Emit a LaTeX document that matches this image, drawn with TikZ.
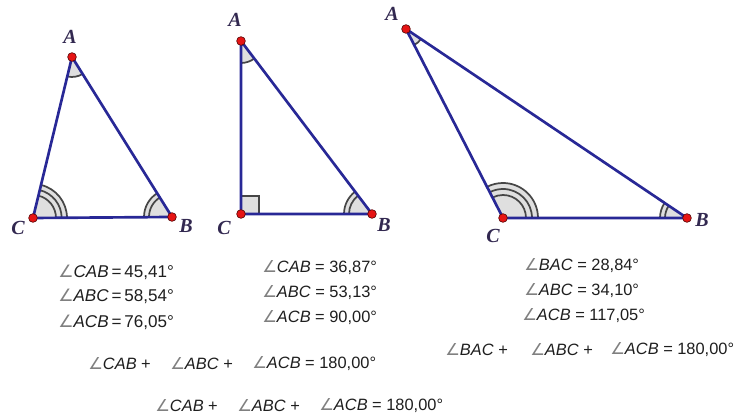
\documentclass[tikz,border=0pt]{standalone}
\usepackage{fontspec}
\setmainfont{Liberation Sans}
\newfontfamily\lblfont{Liberation Serif}
\newfontfamily\symfont{DejaVu Sans}
\usetikzlibrary{angles}
\definecolor{sidec}{RGB}{40,40,150}
\definecolor{ptred}{RGB}{230,20,20}
\definecolor{lblc}{RGB}{50,40,80}
\definecolor{txtc}{RGB}{30,30,30}
\newcommand{\angsym}[1]{{\symfont\color{gray}\char"2220}\textit{#1}}
\begin{document}
\begin{tikzpicture}[x=0.75pt,y=0.75pt,
  sideline/.style={draw=sidec, line width=2pt, line join=round},
  vpt/.style={circle, fill=ptred, draw=ptred!40!black, line width=0.5pt, inner sep=0pt, minimum size=6.5pt},
  vlbl/.style={font=\lblfont\bfseries\itshape\fontsize{15}{15}\selectfont, text=lblc, inner sep=0pt},
  meas/.style={anchor=west, font=\fontsize{12.3}{14}\selectfont, text=txtc, inner sep=0pt},
  measbig/.style={meas, font=\fontsize{12.8}{14}\selectfont},
  angfill/.style={fill=gray!25, draw=none},
  angarc/.style={draw=gray!55!black, line width=1.3pt}]
\useasboundingbox (0,0) rectangle (743,416);

% ---------- triangle 1
\coordinate (A1) at (72,359);
\coordinate (C1) at (33,198);
\coordinate (B1) at (172,199);
\path pic[angfill, angle radius=15pt] {angle=C1--A1--B1};
\path pic[angarc, angle radius=15pt] {angle=C1--A1--B1};
\path pic[angfill, angle radius=25.5pt] {angle=B1--C1--A1};
\foreach \r in {17.25,21.5,25.5} \path pic[angarc, angle radius=\r pt] {angle=B1--C1--A1};
\path pic[angfill, angle radius=21pt] {angle=A1--B1--C1};
\foreach \r in {17.25,21} \path pic[angarc, angle radius=\r pt] {angle=A1--B1--C1};
\draw[sideline] (A1) -- (B1) -- (C1) -- cycle;
\node[vpt] (pA1) at (A1) {};
\node[vpt] (pB1) at (B1) {};
\node[vpt] (pC1) at (C1) {};
\node[vlbl] (lA1) at (70,379) {A};
\node[vlbl] (lC1) at (18,188) {C};
\node[vlbl] (lB1) at (186,190) {B};

% ---------- triangle 2
\coordinate (A2) at (241,375);
\coordinate (C2) at (241,202);
\coordinate (B2) at (372,202);
\path pic[angfill, angle radius=16.5pt] {angle=C2--A2--B2};
\path pic[angarc, angle radius=16.5pt] {angle=C2--A2--B2};
\path pic[angfill, angle radius=21pt] {angle=A2--B2--C2};
\foreach \r in {17.25,21} \path pic[angarc, angle radius=\r pt] {angle=A2--B2--C2};
\draw[fill=gray!25, draw=gray!55!black, line width=1.3pt] (C2) rectangle ++(18,18);
\draw[sideline] (A2) -- (B2) -- (C2) -- cycle;
\node[vpt] (pA2) at (A2) {};
\node[vpt] (pB2) at (B2) {};
\node[vpt] (pC2) at (C2) {};
\node[vlbl] (lA2) at (235,396) {A};
\node[vlbl] (lC2) at (224,188) {C};
\node[vlbl] (lB2) at (384,191) {B};

% ---------- triangle 3
\coordinate (A3) at (406,387);
\coordinate (C3) at (503,198);
\coordinate (B3) at (687,198);
\path pic[angfill, angle radius=13.5pt] {angle=C3--A3--B3};
\path pic[angarc, angle radius=13.5pt] {angle=C3--A3--B3};
\path pic[angfill, angle radius=26.25pt] {angle=B3--C3--A3};
\foreach \r in {17.25,21.75,26.25} \path pic[angarc, angle radius=\r pt] {angle=B3--C3--A3};
\path pic[angfill, angle radius=20.25pt] {angle=A3--B3--C3};
\foreach \r in {16.5,20.25} \path pic[angarc, angle radius=\r pt] {angle=A3--B3--C3};
\draw[sideline] (A3) -- (B3) -- (C3) -- cycle;
\node[vpt] (pA3) at (A3) {};
\node[vpt] (pB3) at (B3) {};
\node[vpt] (pC3) at (C3) {};
\node[vlbl] (lA3) at (392,402) {A};
\node[vlbl] (lC3) at (493,180) {C};
\node[vlbl] (lB3) at (702,196) {B};

% ---------- measurements
\node[measbig] (m11) at (58,144) {\angsym{CAB}\,=\,45,41°};
\node[measbig] (m12) at (58,120) {\angsym{ABC}\,=\,58,54°};
\node[measbig] (m13) at (58,94) {\angsym{ACB}\,=\,76,05°};
\node[meas] (m21) at (262,148) {\angsym{CAB} = 36,87°};
\node[meas] (m22) at (262,123) {\angsym{ABC} = 53,13°};
\node[meas] (m23) at (262,98) {\angsym{ACB} = 90,00°};
\node[meas] (m31) at (524,150) {\angsym{BAC} = 28,84°};
\node[meas] (m32) at (524,125) {\angsym{ABC} = 34,10°};
\node[meas] (m33) at (522,100) {\angsym{ACB} = 117,05°};

% ---------- sums
\node[meas] (s1a) at (88,52) {\angsym{CAB} +};
\node[meas] (s1b) at (170,52) {\angsym{ABC} +};
\node[meas] (s1c) at (252,52) {\angsym{ACB} = 180,00°};
\node[meas] (s2a) at (155,10) {\angsym{CAB} +};
\node[meas] (s2b) at (237,10) {\angsym{ABC} +};
\node[meas] (s2c) at (319,10) {\angsym{ACB} = 180,00°};
\node[meas] (s3a) at (445,66) {\angsym{BAC} +};
\node[meas] (s3b) at (530,66) {\angsym{ABC} +};
\node[meas] (s3c) at (610,66) {\angsym{ACB} = 180,00°};
\end{tikzpicture}
\end{document}
